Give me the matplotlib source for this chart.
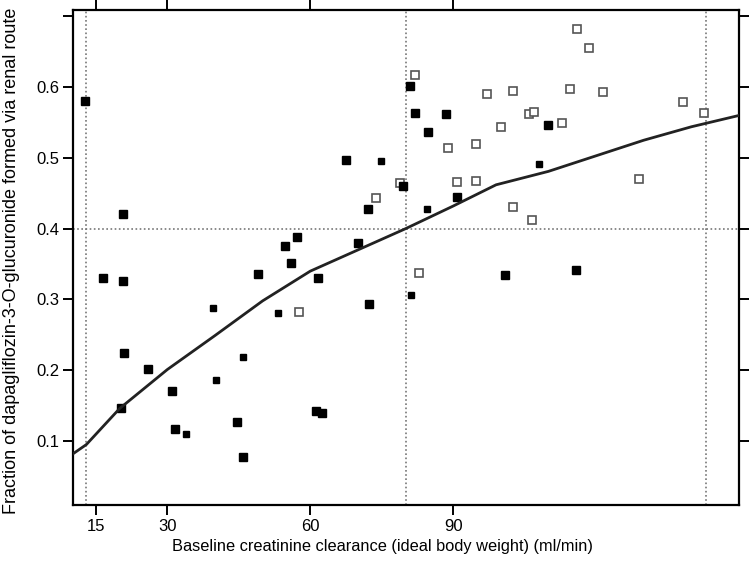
import numpy as np
import matplotlib
matplotlib.use("Agg")
import matplotlib.pyplot as plt

plt.rcParams['font.family'] = ['Liberation Sans', 'DejaVu Sans']

# filled squares (larger)
filled_x = [12.8, 20.6, 67.5, 72.1, 57.2, 54.8, 55.9, 70.1, 49.0, 61.7,
            16.4, 20.6, 80.9, 82.0, 88.5, 84.7, 110.0, 90.8, 100.9, 115.7,
            72.4, 20.9, 26.0, 30.9, 20.2, 31.7, 44.6, 61.3, 62.4, 45.8, 79.5]
filled_y = [0.580, 0.421, 0.497, 0.428, 0.388, 0.376, 0.352, 0.380, 0.336, 0.330,
            0.330, 0.326, 0.602, 0.563, 0.562, 0.537, 0.546, 0.445, 0.334, 0.341,
            0.293, 0.224, 0.202, 0.170, 0.146, 0.117, 0.127, 0.143, 0.140, 0.077, 0.461]

# filled squares (smaller)
small_x = [74.8, 39.5, 53.2, 45.8, 40.2, 34.0, 108.0, 84.6, 81.2]
small_y = [0.496, 0.288, 0.281, 0.219, 0.186, 0.110, 0.491, 0.428, 0.306]

# open squares
open_x = [78.9, 73.7, 81.9, 97.2, 102.6, 115.9, 118.5, 114.6, 121.5, 138.3,
          142.6, 105.9, 106.9, 112.8, 100.1, 88.9, 94.7, 129.1, 90.8, 94.7,
          102.6, 106.5, 82.9, 57.6]
open_y = [0.464, 0.444, 0.617, 0.590, 0.595, 0.682, 0.656, 0.597, 0.593, 0.579,
          0.563, 0.562, 0.565, 0.549, 0.543, 0.514, 0.520, 0.470, 0.466, 0.467,
          0.431, 0.412, 0.338, 0.282]

# smooth fit
fit_x = [10, 13, 20, 30, 40, 50, 60, 70, 80, 90, 99, 110, 120, 130, 140, 150]
fit_y = [0.081, 0.095, 0.146, 0.201, 0.249, 0.298, 0.340, 0.370, 0.400, 0.432,
         0.462, 0.481, 0.503, 0.525, 0.544, 0.560]

ref_x = [13, 80, 143]
ref_y = 0.4

fig = plt.figure(figsize=(7.5, 5.72), dpi=100)
ax = fig.add_axes([73/750, 1 - 505/572, (739 - 73)/750, (505 - 10)/572])

for xv in ref_x:
    ax.axvline(xv, color='#777777', ls=(0, (1, 1.5)), lw=1.2, zorder=1)
ax.axhline(ref_y, color='#777777', ls=(0, (1, 1.5)), lw=1.2, zorder=1)

ax.plot(open_x, open_y, 's', ms=5.2, mfc='white', mec='#555555', mew=1.2, zorder=2)
ax.plot(filled_x, filled_y, 's', ms=5.8, color='black', zorder=3)
ax.plot(small_x, small_y, 's', ms=4.6, color='black', zorder=3)
ax.plot(fit_x, fit_y, '-', color='#222222', lw=2.0, zorder=4)

ax.set_xlim(10.2, 150)
ax.set_ylim(0.0096, 0.709)
ax.set_xticks([15, 30, 60, 90])
ax.set_yticks([0.1, 0.2, 0.3, 0.4, 0.5, 0.6, 0.7])
ax.set_yticklabels(['0.1', '0.2', '0.3', '0.4', '0.5', '0.6', ''])
ax.tick_params(direction='out', length=7, width=1.4, labelsize=12,
               top=True, right=True, labeltop=False, labelright=False, pad=3)
for sp in ax.spines.values():
    sp.set_linewidth(1.6)

fig.text(382/750, 1 - 546/572, 'Baseline creatinine clearance (ideal body weight) (ml/min)',
         ha='center', va='center', fontsize=11.8)
fig.text(12/750, 1 - 261/572, 'Fraction of dapagliflozin-3-O-glucuronide formed via renal route',
         ha='center', va='center', rotation=90, fontsize=13)

fig.savefig('out.png', dpi=100)
